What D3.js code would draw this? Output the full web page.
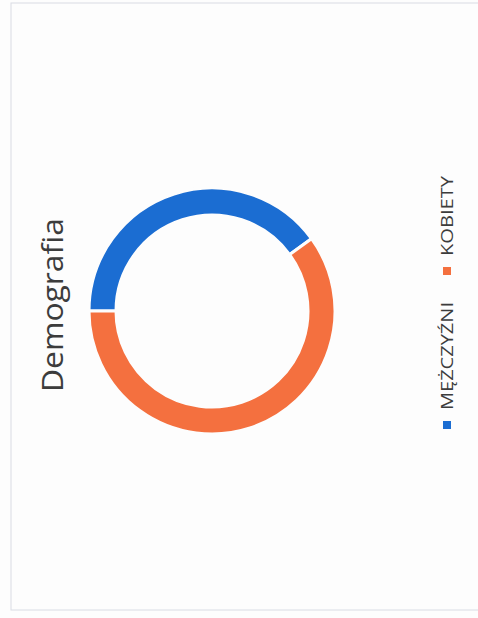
<!DOCTYPE html>
<html>
<head>
<meta charset="utf-8">
<script src="https://cdn.jsdelivr.net/npm/d3@7"></script>
<style>
	body { margin: 0; background: #fdfdfd; }
	svg { display: block; }
	text { font-family: 'Open Sans', sans-serif; fill: #3c3c3c; }
</style>
</head>
<body>
<script>
const TITLE = 'Demografia';
const CATEGORIES = ['MĘŻCZYŹNI', 'KOBIETY'];
const VALUES = [40, 60];
const COLORS = ['#1b6dd2', '#f4703f'];

const WIDTH = 478, HEIGHT = 618;

let svg = d3.select('body').append('svg')
	.attr('width', WIDTH)
	.attr('height', HEIGHT);

// the scanned page is turned a quarter left, so draw upright and rotate
let chart = svg.append('g')
	.attr('transform', `translate(0, ${HEIGHT}) rotate(-90)`);

chart.append('rect')
	.attr('x', 8)
	.attr('y', 11)
	.attr('width', 607)
	.attr('height', 500)
	.attr('fill', 'none')
	.attr('stroke', '#d9dce4')
	.attr('stroke-width', 1);

chart.append('text')
	.attr('x', 313)
	.attr('y', 63)
	.attr('text-anchor', 'middle')
	.attr('font-size', 29)
	.attr('textLength', 174)
	.attr('lengthAdjust', 'spacingAndGlyphs')
	.text(TITLE);

let pie = d3.pie().sort(null);
let arc = d3.arc().innerRadius(96).outerRadius(123);

chart.append('g')
	.attr('transform', 'translate(307, 212)')
	.selectAll('path')
	.data(pie(VALUES))
	.enter()
	.append('path')
	.attr('d', arc)
	.attr('fill', (d, i) => COLORS[i])
	.attr('stroke', '#fdfdfd')
	.attr('stroke-width', 3);

const LEGEND_X = [189, 343];
const LEGEND_LEN = [108, 80];

let legend = chart.append('g')
	.selectAll('g')
	.data(CATEGORIES)
	.enter()
	.append('g')
	.attr('transform', (d, i) => `translate(${LEGEND_X[i]}, 443)`);

legend.append('rect')
	.attr('width', 8)
	.attr('height', 8)
	.attr('fill', (d, i) => COLORS[i]);

legend.append('text')
	.attr('x', 19)
	.attr('y', 10)
	.attr('font-size', 17)
	.attr('textLength', (d, i) => LEGEND_LEN[i])
	.attr('lengthAdjust', 'spacingAndGlyphs')
	.text(d => d);
</script>
</body>
</html>
